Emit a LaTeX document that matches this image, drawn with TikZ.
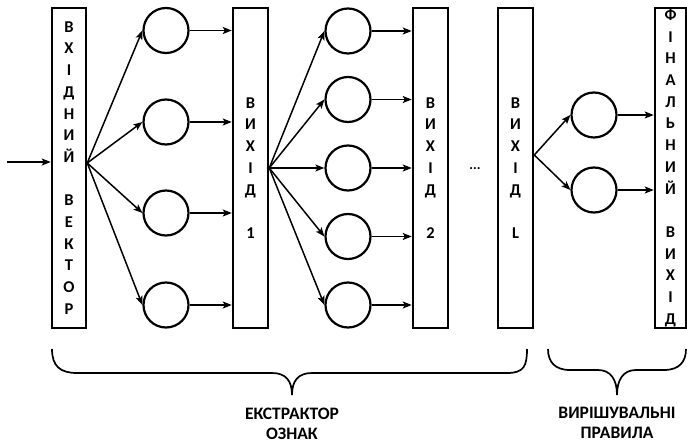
\documentclass[tikz,border=0pt]{standalone}
\usepackage{fontspec}
\setmainfont{Carlito}
\usetikzlibrary{arrows.meta}

\tikzset{
  box/.style={draw, line width=2.5pt, minimum width=34pt, minimum height=320pt,
    inner sep=0pt, align=center, font=\bfseries\fontsize{16.5}{21.7}\selectfont},
  neuron/.style={draw, circle, line width=2.2pt, minimum size=45pt, inner sep=0pt},
  arr/.style={line width=1.5pt, -{Stealth[length=9pt,width=7pt,inset=2pt]}},
  brace/.style={line width=1.7pt},
  lbl/.style={align=center, font=\bfseries\fontsize{17.5}{20.5}\selectfont}
}

\begin{document}
\begin{tikzpicture}[x=1pt, y=-1pt]
  \useasboundingbox (0,0) rectangle (687,443);

  % layer blocks
  \node[box] (in) at (69,168) {В\\Х\\І\\Д\\Н\\И\\Й\\[21.7pt]В\\Е\\К\\Т\\О\\Р};
  \node[box, minimum width=35pt] (o1) at (250.5,168) {В\\И\\Х\\І\\Д\\[21.7pt]1};
  \node[box, minimum width=35pt] (o2) at (430.5,168) {В\\И\\Х\\І\\Д\\[21.7pt]2};
  \node[box, minimum width=35pt] (oL) at (515.5,168) {В\\И\\Х\\І\\Д\\[21.7pt]L};
  \node[box, minimum width=31pt] (fin) at (670.5,168)
    {Ф\\І\\Н\\А\\Л\\Ь\\Н\\И\\Й\\[21.7pt]В\\И\\Х\\І\\Д};

  % neurons
  \node[neuron] (a1) at (166,30.5) {};
  \node[neuron] (a2) at (166,122) {};
  \node[neuron] (a3) at (166,213) {};
  \node[neuron] (a4) at (166,305) {};

  \node[neuron] (b1) at (348,31) {};
  \node[neuron] (b2) at (348,99.5) {};
  \node[neuron] (b3) at (348,168) {};
  \node[neuron] (b4) at (348,236.5) {};
  \node[neuron] (b5) at (348,305) {};

  \node[neuron] (c1) at (594,115) {};
  \node[neuron] (c2) at (594,190) {};

  \node[font=\bfseries\fontsize{14}{16}\selectfont] (dots) at (475,169) {...};

  % input
  \coordinate (src) at (7,162);
  \draw[arr] (src) -- (src -| in.west);

  % fan-out points on the block edges
  \coordinate (f0) at (in.east |- 0,163);
  \coordinate (f1) at (o1.east |- 0,168);
  \coordinate (fL) at (oL.east |- 0,155);

  \foreach \n in {a1,a2,a3,a4} {
    \draw[arr] (f0) -- (\n.west);
    \draw[arr] (\n.east) -- (\n.east -| o1.west);
  }
  \foreach \n in {b1,b2,b3,b4,b5} {
    \draw[arr] (f1) -- (\n.west);
    \draw[arr] (\n.east) -- (\n.east -| o2.west);
  }
  \foreach \n in {c1,c2} {
    \draw[arr] (fL) -- (\n.west);
    \draw[arr] (\n.east) -- (\n.east -| fin.west);
  }

  % braces
  \draw[brace] (52,349) .. controls (52,366) and (60,373) .. (77,373)
    -- (272,373) .. controls (286,373) and (292,381) .. (292,395)
    .. controls (292,381) and (298,373) .. (312,373)
    -- (507,373) .. controls (524,373) and (527,366) .. (527,349);
  \draw[brace] (548,349) .. controls (548,362) and (555,370) .. (570,370)
    -- (598,370) .. controls (611,370) and (617,380) .. (617,395)
    .. controls (617,380) and (623,370) .. (636,370)
    -- (664,370) .. controls (679,370) and (686,362) .. (686,349);

  % group labels
  \node[lbl] (ext) at (292,424) {ЕКСТРАКТОР\\ОЗНАК};
  \node[lbl] (dec) at (617,423) {ВИРІШУВАЛЬНІ\\ПРАВИЛА};
\end{tikzpicture}
\end{document}
